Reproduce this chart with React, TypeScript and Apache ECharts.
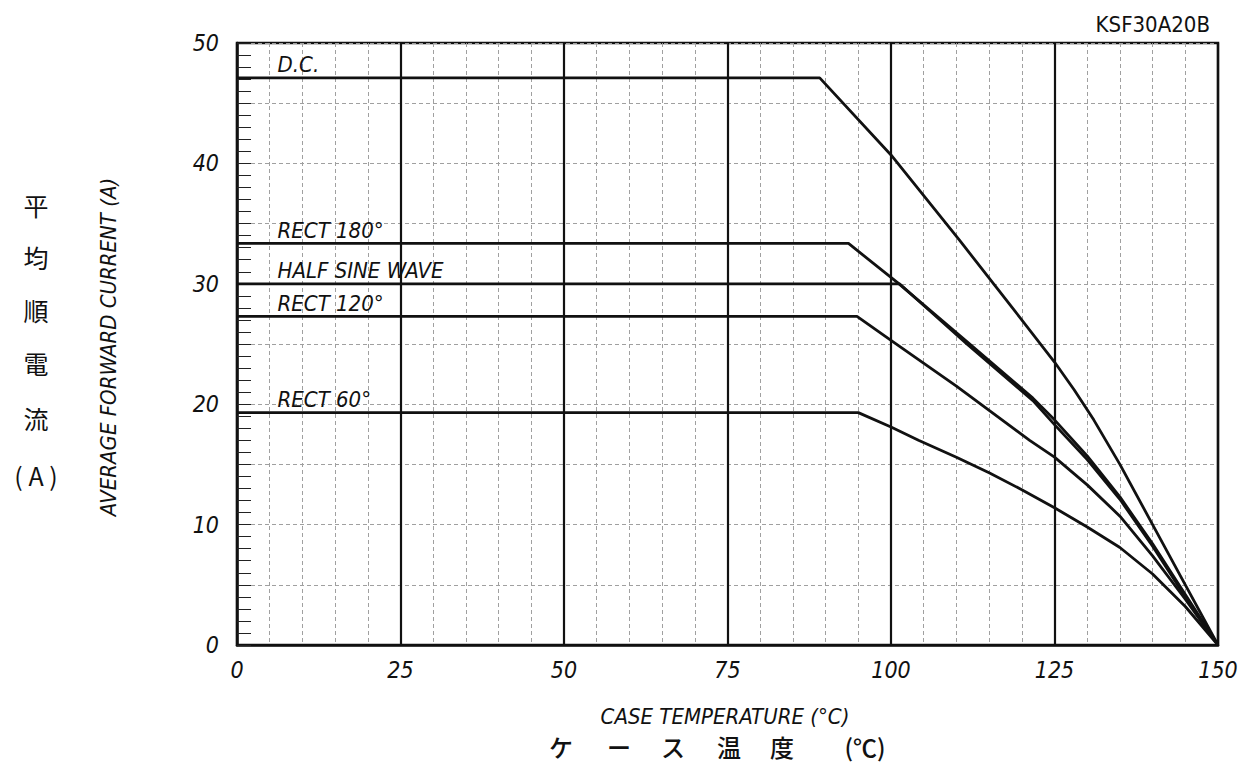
import React, { useEffect, useRef } from 'react';
import * as echarts from 'echarts';

// ---- data ----
const xTickValues = [0, 25, 50, 75, 100, 125, 150];
const yTickValues = [0, 10, 20, 30, 40, 50];

const dcT = [0, 89.1, 100, 110.5, 118, 125, 128, 131, 135, 140, 145, 150];
const dcI = [47.1, 47.1, 40.7, 33.6, 28.4, 23.5, 21.2, 18.7, 15.0, 10.0, 5.0, 0];

const rect180T = [0, 93.5, 101, 111.6, 121.7, 125, 130, 135, 140, 145, 150];
const rect180I = [33.35, 33.35, 30.1, 25.2, 20.5, 18.7, 15.7, 12.3, 8.4, 4.2, 0];

const halfSineT = [0, 101.3, 111.6, 121.7, 125, 130, 135, 140, 145, 150];
const halfSineI = [30.0, 30.0, 25.0, 20.3, 18.3, 15.4, 12.1, 8.2, 4.0, 0];

const rect120T = [0, 94.8, 100, 110, 121.2, 125, 130, 135, 140, 145, 150];
const rect120I = [27.3, 27.3, 25.3, 21.5, 17.0, 15.6, 13.3, 10.7, 7.4, 3.8, 0];

const rect60T = [0, 95, 100, 104.2, 110, 115, 120, 125, 130, 135, 140, 145, 150];
const rect60I = [19.3, 19.3, 18.1, 17.0, 15.6, 14.3, 12.9, 11.4, 9.8, 8.1, 5.9, 3.2, 0];

const seriesNames = ['D.C.', 'RECT 180°', 'HALF SINE WAVE', 'RECT 120°', 'RECT 60°'];
const seriesT = [dcT, rect180T, halfSineT, rect120T, rect60T];
const seriesI = [dcI, rect180I, halfSineI, rect120I, rect60I];
const curveLabelT = 6.2;

const partNumber = 'KSF30A20B';
const xTitleEn = 'CASE TEMPERATURE (°C)';
const yTitleEn = 'AVERAGE FORWARD CURRENT (A)';
const xTitleJa = ['ケ', 'ー', 'ス', '温', '度', '(℃)'];
const yTitleJa = ['平', '均', '順', '電', '流', '( A )'];

const NARROW = "'Liberation Sans Narrow', 'Arial Narrow', 'DejaVu Sans Condensed', sans-serif";
const CJK = "'Noto Sans CJK JP', 'Noto Sans CJK SC', sans-serif";

export default function App() {
  const ref = useRef<HTMLDivElement>(null);

  useEffect(() => {
    document.body.style.margin = '0';
    const chart = echarts.init(ref.current as HTMLDivElement, null, { renderer: 'svg' });

    const series = seriesNames.map((name, k) => ({
      name,
      type: 'line',
      data: seriesT[k].map((t, i) => [t, seriesI[k][i]]),
      showSymbol: false,
      symbol: 'none',
      lineStyle: { color: '#111', width: 2.8, join: 'round' },
      z: 5,
    }));

    const option: any = {
      animation: false,
      backgroundColor: '#ffffff',
      grid: {
        left: 237,
        top: 43,
        right: 38,
        bottom: 119,
        show: true,
        borderColor: '#111',
        borderWidth: 2.5,
        backgroundColor: 'transparent',
      },
      xAxis: {
        type: 'value',
        min: 0,
        max: 150,
        interval: 25,
        axisLine: { show: true, lineStyle: { color: '#111', width: 2.5 } },
        axisTick: { show: false },
        minorTick: { show: false, splitNumber: 5 },
        minorSplitLine: { show: true, lineStyle: { color: '#a0a0a0', width: 1, type: [4, 3] } },
        splitLine: { show: true, lineStyle: { color: '#111', width: 2.2 } },
        axisLabel: {
          margin: 13,
          color: '#111',
          fontSize: 23,
          fontStyle: 'italic',
          fontFamily: NARROW,
          formatter: (v: number) => (xTickValues.includes(v) ? String(v) : ''),
        },
      },
      yAxis: {
        type: 'value',
        min: 0,
        max: 50,
        interval: 5,
        axisLine: { show: true, lineStyle: { color: '#111', width: 2.5 } },
        axisTick: { show: true, inside: true, length: 14, lineStyle: { color: '#222', width: 1 } },
        minorTick: { show: true, splitNumber: 5, length: 14, lineStyle: { color: '#222', width: 1 } },
        splitLine: { show: true, lineStyle: { color: '#a0a0a0', width: 1, type: [4, 3] } },
        axisLabel: {
          margin: 18,
          color: '#111',
          fontSize: 23,
          fontStyle: 'italic',
          fontFamily: NARROW,
          formatter: (v: number) => (yTickValues.includes(v) ? String(v) : ''),
        },
      },
      series,
    };
    chart.setOption(option);

    const txt = (text: string, x: number, y: number, extra: any = {}) => ({
      type: 'text',
      x,
      y,
      z: 10,
      silent: true,
      rotation: extra.rotation || 0,
      style: {
        text,
        fill: '#111',
        fontSize: extra.fontSize || 23,
        fontFamily: extra.fontFamily || NARROW,
        fontStyle: extra.fontStyle || 'normal',
        fontWeight: extra.fontWeight || 'normal',
        align: extra.align || 'center',
        textAlign: extra.align || 'center',
        verticalAlign: extra.verticalAlign || 'middle',
        textVerticalAlign: extra.verticalAlign || 'middle',
      },
    });

    const graphics: any[] = [];
    // curve labels positioned through the chart's own scales
    seriesNames.forEach((name, k) => {
      const p = chart.convertToPixel({ gridIndex: 0 }, [curveLabelT, seriesI[k][0]]) as number[];
      graphics.push(txt(name, p[0], p[1] - 2, { align: 'left', verticalAlign: 'bottom', fontStyle: 'italic', fontSize: 22 }));
    });

    graphics.push(txt(partNumber, 1210, 24, { align: 'right', fontSize: 22 }));
    graphics.push(txt(xTitleEn, 725, 716, { fontStyle: 'italic', fontSize: 22 }));
    graphics.push(txt(yTitleEn, 108, 347, { fontStyle: 'italic', fontSize: 22, rotation: Math.PI / 2 }));

    const jaX = [561, 619, 673, 729, 782, 865];
    xTitleJa.forEach((c, i) => graphics.push(txt(c, jaX[i], 746, { fontFamily: CJK, fontSize: 24, fontWeight: 500 })));
    const jaY = [205, 257, 310, 363, 418, 475];
    yTitleJa.forEach((c, i) => graphics.push(txt(c, 36, jaY[i], { fontFamily: CJK, fontSize: 25 })));

    chart.setOption({ graphic: graphics });

    return () => chart.dispose();
  }, []);

  return <div ref={ref} style={{ width: 1256, height: 764 }} />;
}
